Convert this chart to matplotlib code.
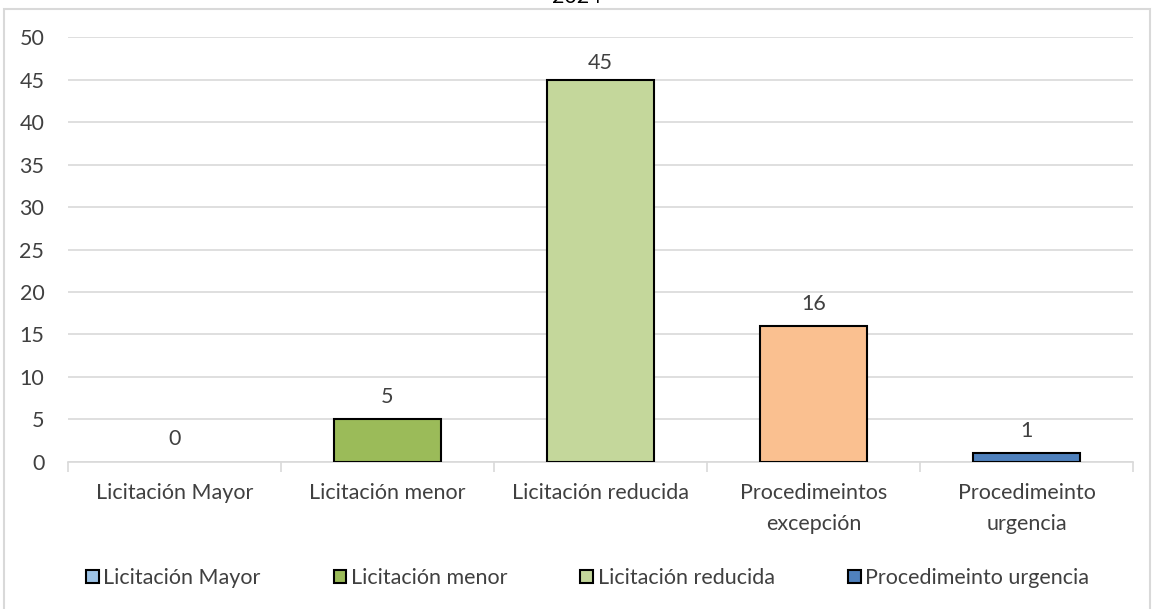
import matplotlib.pyplot as plt
from matplotlib.patches import Rectangle

categories = ["Licitación Mayor", "Licitación menor", "Licitación reducida",
              "Procedimeintos\nexcepción", "Procedimeinto\nurgencia"]
values = [0, 5, 45, 16, 1]
colors = ["#9DC3E6", "#9BBB59", "#C4D79B", "#FAC090", "#4F81BD"]
legend_names = ["Licitación Mayor", "Licitación menor", "Licitación reducida",
                "Procedimeinto urgencia"]
legend_idx = [0, 1, 2, 4]

plt.rcParams["font.family"] = ["Lato", "DejaVu Sans"]
text_color = "#404040"
fs = 15.5

fig = plt.figure(figsize=(11.54, 6.09), dpi=100)
ax = fig.add_axes([0.0589, 0.2414, 0.9229, 0.6978])

x = list(range(len(values)))
widths = [1.5 if v > 0 else 0 for v in values]
ax.bar(x, values, width=0.5, color=colors, edgecolor="black", linewidth=widths, zorder=3)
for i, v in zip(x, values):
    off = 9 if v < 40 else 5
    ax.annotate(str(v), (i, v), xytext=(0, off), textcoords="offset points",
                ha="center", va="bottom", fontsize=fs, color=text_color)

ax.set_xlim(-0.5, len(values) - 0.5)
ax.set_ylim(0, 50)
ax.set_yticks(range(0, 51, 5))
ax.grid(axis="y", color="#D9D9D9", linewidth=1.2, zorder=0)
for s in ["top", "right", "left"]:
    ax.spines[s].set_visible(False)
ax.spines["bottom"].set_color("#D9D9D9")
ax.spines["bottom"].set_linewidth(1.2)

ax.set_xticks([i - 0.5 for i in range(len(values) + 1)])
ax.set_xticklabels([])
ax.tick_params(axis="x", which="major", length=7, color="#D9D9D9", width=1.2)
ax.set_xticks(x, minor=True)
ax.set_xticklabels(categories, minor=True, fontsize=fs, color=text_color,
                   linespacing=1.7)
ax.tick_params(axis="x", which="minor", length=0, pad=15)
ax.tick_params(axis="y", length=0, labelsize=fs, labelcolor=text_color, pad=17)

handles = [Rectangle((0, 0), 1, 1, facecolor=colors[i], edgecolor="black", linewidth=1.5)
           for i in legend_idx]
fig.legend(handles, legend_names, loc="center", bbox_to_anchor=(0.509, 0.051), ncol=4,
           frameon=False, fontsize=fs, handlelength=0.6, handleheight=0.6,
           handletextpad=0.2, columnspacing=3.4, labelcolor=text_color)

fig.text(0.5, 1.005, "2024", ha="center", va="center", fontsize=fs, color="black")

fig.add_artist(Rectangle((0.0035, -0.1), 0.993, 1.085, transform=fig.transFigure,
                         fill=False, edgecolor="#D9D9D9", linewidth=1.5))

fig.savefig("out.png", dpi=100)
